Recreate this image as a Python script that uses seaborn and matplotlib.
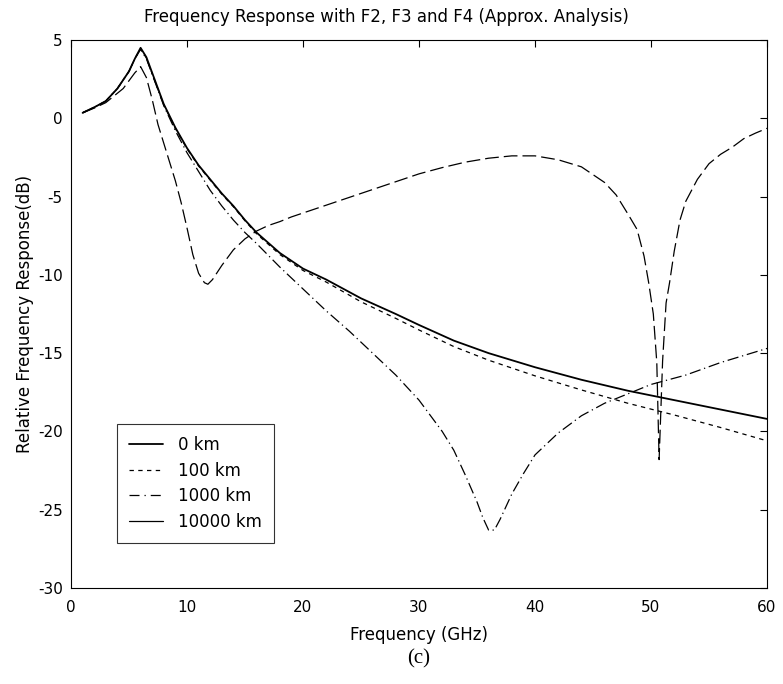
import numpy as np
import pandas as pd
import matplotlib
matplotlib.use("Agg")
import matplotlib.pyplot as plt
from matplotlib.lines import Line2D
import seaborn as sns

# ---- data ----
freq_a = [1, 2, 3, 4, 5, 5.5, 6, 6.5, 7, 8, 9, 10, 11, 12, 13, 14, 15, 16, 18, 20,
          22, 25, 28, 30, 33, 36, 40, 44, 48, 52, 56, 60]
resp_0km = [0.35, 0.7, 1.1, 1.9, 3.0, 3.8, 4.5, 3.9, 2.9, 0.9, -0.6, -1.9, -3.0, -3.9,
            -4.8, -5.6, -6.5, -7.3, -8.6, -9.6, -10.3, -11.5, -12.5, -13.2, -14.2, -15.0,
            -15.9, -16.7, -17.4, -18.0, -18.6, -19.2]
resp_100km = [0.35, 0.7, 1.1, 1.9, 3.0, 3.8, 4.45, 3.85, 2.85, 0.85, -0.65, -1.95, -3.05,
              -3.95, -4.85, -5.65, -6.55, -7.38, -8.7, -9.72, -10.46, -11.72, -12.78,
              -13.52, -14.58, -15.45, -16.45, -17.35, -18.2, -18.95, -19.75, -20.6]

freq_b = [1, 2, 3, 4, 5, 5.5, 6, 6.5, 7, 8, 9, 10, 11, 12, 13, 14, 15, 16, 18, 20, 22,
          24, 26, 28, 30, 32, 33, 34, 35, 35.5, 36, 36.5, 37, 38, 39, 40, 42, 44, 46, 48,
          50, 53, 56, 60]
resp_1000km = [0.35, 0.7, 1.1, 1.9, 3.0, 3.8, 4.4, 3.8, 2.8, 0.8, -0.8, -2.2, -3.4, -4.6,
               -5.6, -6.5, -7.3, -8.0, -9.5, -10.9, -12.3, -13.6, -15.0, -16.4, -18.0,
               -20.0, -21.2, -22.8, -24.5, -25.5, -26.3, -26.3, -25.6, -24.0, -22.7, -21.5,
               -20.1, -19.0, -18.2, -17.6, -17.0, -16.4, -15.6, -14.7]

freq_c = [1, 2, 3, 4, 4.5, 5, 5.5, 6, 6.5, 7, 7.5, 8, 8.5, 9, 9.5, 10, 10.5, 11, 11.5,
          11.8, 12.2, 13, 14, 15, 16, 17, 18, 19, 20, 22, 24, 26, 28, 30, 32, 34, 36, 38,
          40, 42, 44, 45, 46, 47, 48, 48.8, 49.4, 49.8, 50.2, 50.5, 50.7, 51.0, 51.3, 51.6,
          52, 52.5, 53, 54, 55, 56, 57, 58, 59, 60]
resp_10000km = [0.35, 0.65, 1.0, 1.6, 1.9, 2.4, 2.9, 3.3, 2.6, 1.2, -0.4, -1.6, -2.8, -4.0,
                -5.4, -7.0, -8.7, -9.9, -10.5, -10.6, -10.3, -9.4, -8.4, -7.7, -7.2, -6.85,
                -6.6, -6.3, -6.05, -5.55, -5.05, -4.55, -4.05, -3.55, -3.15, -2.8, -2.55,
                -2.4, -2.4, -2.65, -3.1, -3.6, -4.1, -4.9, -6.1, -7.1, -8.8, -10.5, -12.5,
                -15.6, -21.8, -15.5, -11.8, -10.5, -8.5, -6.5, -5.3, -3.9, -2.9, -2.3,
                -1.85, -1.3, -0.95, -0.64]

labels = ["0 km", "100 km", "1000 km", "10000 km"]
x_ticks = [0, 10, 20, 30, 40, 50, 60]
y_ticks = [5, 0, -5, -10, -15, -20, -25, -30]

sns.set_theme(style="white")
plt.rcParams["font.family"] = ["DejaVu Sans"]
plt.rcParams["axes.edgecolor"] = "black"
plt.rcParams["axes.linewidth"] = 0.8
plt.rcParams["axes.unicode_minus"] = False
plt.rcParams["text.color"] = "black"
plt.rcParams["axes.labelcolor"] = "black"
plt.rcParams["xtick.color"] = "black"
plt.rcParams["ytick.color"] = "black"

W, H = 783, 684
fig = plt.figure(figsize=(W / 100, H / 100), dpi=100)
ax = fig.add_axes([71 / W, 1 - 588 / H, 696 / W, 548 / H])

style_0 = dict(color="black", lw=1.3, linestyle="-")
style_100 = dict(color="black", lw=0.9, linestyle=(0, (3.5, 3.5)))
style_1000 = dict(color="black", lw=0.9, linestyle=(0, (9, 3, 1, 3)))
style_10000 = dict(color="black", lw=0.9, linestyle=(0, (11, 4)))

sns.lineplot(x=freq_a, y=resp_0km, ax=ax, sort=False, estimator=None, **style_0)
sns.lineplot(x=freq_a, y=resp_100km, ax=ax, sort=False, estimator=None, **style_100)
sns.lineplot(x=freq_b, y=resp_1000km, ax=ax, sort=False, estimator=None, **style_1000)
sns.lineplot(x=freq_c, y=resp_10000km, ax=ax, sort=False, estimator=None, **style_10000)

ax.set_xlim(0, 60)
ax.set_ylim(-30, 5)
ax.set_xticks(x_ticks)
ax.set_yticks(y_ticks)
ax.tick_params(axis="both", direction="in", length=5, width=0.8, top=True, right=True,
               labelsize=11, colors="black")
ax.tick_params(axis="x", pad=9)
ax.tick_params(axis="y", pad=6)
for s in ax.spines.values():
    s.set_visible(True)
    s.set_color("black")

ax.set_xlabel("Frequency (GHz)", fontsize=12, color="black")
ax.xaxis.set_label_coords(0.5, (588 - 635) / 548)
ax.xaxis.label.set_va("center")
ax.set_ylabel("Relative Frequency Response(dB)", fontsize=12, color="black")
ax.yaxis.set_label_coords((25 - 71) / 696, 0.5)
ax.yaxis.label.set_va("center")

fig.text(386 / W, 1 - 17 / H, "Frequency Response with F2, F3 and F4 (Approx. Analysis)",
         ha="center", va="center", fontsize=12, color="black")

handles = [Line2D([], [], **style_0),
           Line2D([], [], **style_100),
           Line2D([], [], color="black", lw=0.9, linestyle=(0, (8, 4, 1, 4))),
           Line2D([], [], color="black", lw=0.9, linestyle="-")]
leg = ax.legend(handles, labels, loc="lower left", bbox_to_anchor=(0.066, 0.082),
                borderaxespad=0, frameon=True, fancybox=False, fontsize=12,
                handlelength=2.0, handletextpad=0.9, labelspacing=0.45, borderpad=0.75,
                labelcolor="black")
leg.get_frame().set_edgecolor("black")
leg.get_frame().set_linewidth(0.8)

fig.text(419 / W, 1 - 659 / H, "(c)", ha="center", va="center", color="black",
         fontsize=15, family=["Liberation Serif", "DejaVu Serif"])

fig.savefig("out.png", dpi=100, facecolor="white")
